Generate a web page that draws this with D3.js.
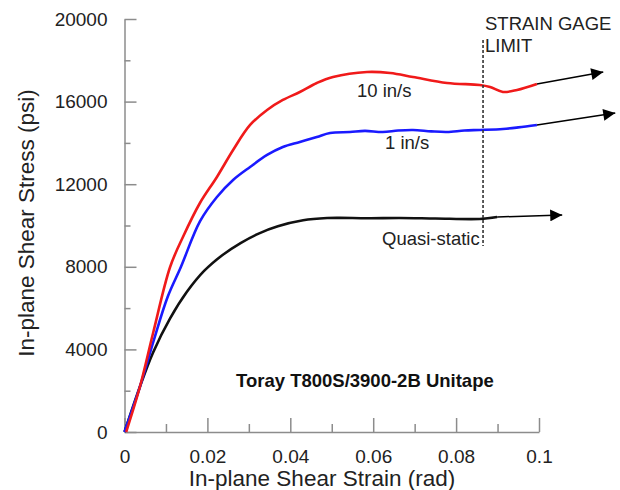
<!DOCTYPE html>
<html lang="en">
<head>
  <meta charset="UTF-8">
  <title>In-plane Shear Stress vs Strain</title>
  <script src="https://d3js.org/d3.v7.min.js"></script>
  <style>
    body { margin: 0; background: #fff; }
    svg { display: block; font-family: 'Liberation Sans', Arial, sans-serif; }
    .axis path, .axis line { stroke: #8c8c8c; stroke-width: 1.5; }
    .axis text { fill: #222; font-size: 19px; }
  </style>
</head>
<body>
<div id="chart"></div>
<script>
  // strain (rad) / stress (psi)
  const quasiStrain = [0, 0.0037, 0.0069, 0.011, 0.0151, 0.0192, 0.0235, 0.028, 0.0325, 0.037, 0.0431, 0.0489, 0.052, 0.0585, 0.0664, 0.075, 0.0857, 0.0899];
  const quasiStress = [0, 2179, 3850, 5500, 6800, 7800, 8550, 9150, 9620, 9960, 10250, 10360, 10370, 10350, 10364, 10340, 10316, 10412];

  const oneStrain = [0, 0.0037, 0.007, 0.0104, 0.0136, 0.0182, 0.0223, 0.0262, 0.0303, 0.0344, 0.0382, 0.0423, 0.0464, 0.0496, 0.0544, 0.058, 0.0623, 0.066, 0.0696, 0.074, 0.0778, 0.082, 0.0857, 0.0913, 0.095, 0.0995];
  const oneStress = [0, 2179, 4400, 6538, 7991, 10200, 11381, 12204, 12834, 13415, 13803, 14045, 14287, 14481, 14529, 14580, 14529, 14600, 14626, 14560, 14529, 14600, 14626, 14674, 14750, 14868];

  const tenStrain = [0.0004, 0.0037, 0.0069, 0.011, 0.0141, 0.0182, 0.0223, 0.0262, 0.0303, 0.0344, 0.0382, 0.0423, 0.0464, 0.0503, 0.0585, 0.0641, 0.0696, 0.0778, 0.0857, 0.0882, 0.0913, 0.0947, 0.0995];
  const tenStress = [0, 2179, 4795, 7991, 9444, 11090, 12350, 13657, 14868, 15594, 16079, 16466, 16902, 17193, 17435, 17386, 17193, 16902, 16805, 16708, 16466, 16563, 16854];

  const seriesNames = ["Quasi-static", "1 in/s", "10 in/s"];
  const seriesColors = ["#111", "#1a1aff", "#f01a1a"];

  // arrow annotations: [x0, y0, x1, y1]
  const arrows = [
    [0.0899, 10412, 0.1056, 10508],
    [0.0995, 14868, 0.1184, 15448],
    [0.0995, 16854, 0.1155, 17433]
  ];
  const gageLimit = 0.0865;

  const yTicks = [0, 4000, 8000, 12000, 16000, 20000];
  const xTicks = [0, 0.02, 0.04, 0.06, 0.08, 0.1];
  const xTickLabels = ["0", "0.02", "0.04", "0.06", "0.08", "0.1"];

  const width = 620, height = 490;
  const svg = d3.select("#chart").append("svg")
    .attr("width", width).attr("height", height);

  const x = d3.scaleLinear().domain([0, 0.1]).range([124.5, 539]);
  const y = d3.scaleLinear().domain([0, 20000]).range([432, 19]);

  // minor ticks
  svg.append("g").attr("class", "axis")
    .attr("transform", `translate(${x(0)},0)`)
    .call(d3.axisLeft(y).tickValues(d3.range(2000, 20000, 4000)).tickSize(-6).tickSizeOuter(0).tickFormat(""))
    .select(".domain").remove();
  svg.append("g").attr("class", "axis")
    .attr("transform", `translate(0,${y(0)})`)
    .call(d3.axisBottom(x).tickValues([0.01, 0.03, 0.05, 0.07, 0.09]).tickSize(-8).tickSizeOuter(0).tickFormat(""))
    .select(".domain").remove();

  // major ticks
  svg.append("g").attr("class", "axis")
    .attr("transform", `translate(${x(0)},0)`)
    .call(d3.axisLeft(y).tickValues(yTicks).tickSize(-12).tickSizeOuter(0).tickPadding(17).tickFormat(d3.format("d")));
  svg.append("g").attr("class", "axis")
    .attr("transform", `translate(0,${y(0)})`)
    .call(d3.axisBottom(x).tickValues(xTicks).tickSize(-14).tickSizeOuter(0).tickPadding(18)
      .tickFormat((d, i) => xTickLabels[i]));

  // axis titles
  svg.append("text")
    .attr("x", 322).attr("y", 486)
    .attr("text-anchor", "middle")
    .style("font-size", "22.5px").attr("fill", "#222")
    .text("In-plane Shear Strain (rad)");
  svg.append("text")
    .attr("transform", "translate(34,223) rotate(-90)")
    .attr("text-anchor", "middle")
    .style("font-size", "22.5px").attr("fill", "#222")
    .text("In-plane Shear Stress (psi)");

  // curves
  const line = d3.line().x(d => x(d[0])).y(d => y(d[1])).curve(d3.curveCatmullRom);
  const series = [
    d3.zip(quasiStrain, quasiStress),
    d3.zip(oneStrain, oneStress),
    d3.zip(tenStrain, tenStress)
  ];
  svg.selectAll(".curve")
    .data(series)
    .enter().append("path")
    .attr("class", "curve")
    .attr("fill", "none")
    .attr("stroke", (d, i) => seriesColors[i])
    .attr("stroke-width", 2.6)
    .attr("d", line);

  // strain gage limit
  svg.append("line")
    .attr("x1", x(gageLimit)).attr("x2", x(gageLimit))
    .attr("y1", 40).attr("y2", 246)
    .attr("stroke", "#333").attr("stroke-width", 1.6)
    .attr("stroke-dasharray", "3,2");
  svg.append("text").attr("x", 485).attr("y", 30)
    .style("font-size", "18.5px").attr("fill", "#222").text("STRAIN GAGE");
  svg.append("text").attr("x", 485).attr("y", 52)
    .style("font-size", "18.5px").attr("fill", "#222").text("LIMIT");

  // arrows
  svg.append("defs").append("marker")
    .attr("id", "head")
    .attr("viewBox", "0 0 10 10")
    .attr("refX", 10).attr("refY", 5)
    .attr("markerWidth", 18).attr("markerHeight", 12)
    .attr("markerUnits", "userSpaceOnUse")
    .attr("orient", "auto")
    .append("path").attr("d", "M0,0L10,5L0,10Z").attr("fill", "#000");
  svg.selectAll(".arrow")
    .data(arrows)
    .enter().append("line")
    .attr("class", "arrow")
    .attr("x1", d => x(d[0])).attr("y1", d => y(d[1]))
    .attr("x2", d => x(d[2])).attr("y2", d => y(d[3]))
    .attr("stroke", "#000").attr("stroke-width", 1.5)
    .attr("marker-end", "url(#head)");

  // labels
  const labelPos = [[382, 245], [385, 149], [357, 97]];
  svg.selectAll(".lab")
    .data(seriesNames)
    .enter().append("text")
    .attr("class", "lab")
    .attr("x", (d, i) => labelPos[i][0]).attr("y", (d, i) => labelPos[i][1])
    .style("font-size", "18.5px").attr("fill", "#222")
    .text(d => d);

  svg.append("text")
    .attr("x", 236).attr("y", 387)
    .style("font-size", "18.5px").style("font-weight", "bold").attr("fill", "#111")
    .text("Toray T800S/3900-2B Unitape");
</script>
</body>
</html>
